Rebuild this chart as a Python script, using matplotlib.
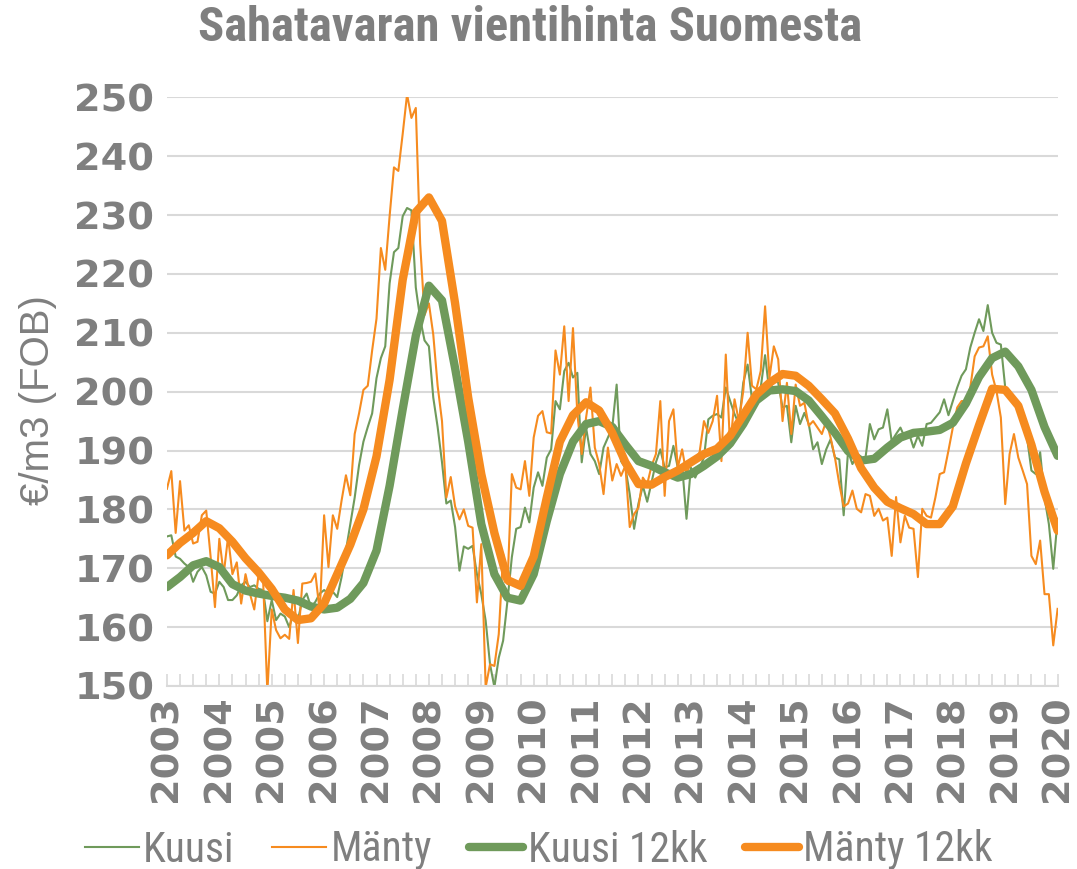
import numpy as np
import matplotlib

matplotlib.use("Agg")
import matplotlib.pyplot as plt
from matplotlib import font_manager

# monthly export prices, Jan 2003 .. Jan 2020 (EUR/m3 FOB)
kuusi = [
    175.4, 175.6, 172.0, 171.6, 170.8, 170.2, 167.7, 169.4, 170.2, 168.8, 166.0, 165.7,
    167.7, 166.8, 164.6, 164.6, 165.4, 167.1, 167.7, 166.8, 167.1, 166.5, 166.3, 161.0,
    164.6, 161.2, 162.3, 161.8, 160.0, 162.3, 161.2, 164.6, 165.7, 163.4, 164.3, 165.7,
    166.3, 165.7, 166.0, 165.1, 168.5, 173.0, 177.6, 182.0, 187.5, 191.5, 194.0, 196.3,
    202.3, 205.7, 207.7, 218.4, 223.7, 224.4, 229.8, 231.2, 230.8, 217.7, 212.4, 208.7,
    207.7, 199.0, 194.0, 188.0, 181.0, 181.5, 177.0, 169.6, 173.7, 173.3, 173.8, 169.0,
    165.6, 161.1, 153.7, 149.8, 154.8, 157.7, 164.5, 171.9, 176.7, 177.0, 180.3, 177.8,
    183.7, 186.3, 184.0, 188.8, 190.2, 198.4, 197.0, 203.5, 204.9, 202.4, 203.2, 188.0,
    193.9, 189.4, 188.2, 186.0, 190.5, 192.2, 193.9, 201.2, 188.2, 187.1, 182.6, 176.7,
    181.0, 184.0, 181.3, 184.6, 188.0, 190.2, 187.1, 187.4, 190.8, 187.1, 187.4, 178.4,
    187.1, 185.4, 187.1, 188.8, 195.3, 195.9, 196.2, 195.6, 200.7, 198.4, 196.2, 194.5,
    201.5, 204.6, 198.7, 199.5, 200.7, 206.2, 199.8, 202.4, 201.5, 197.3, 197.6, 191.4,
    197.6, 194.5, 196.4, 194.5, 190.2, 191.4, 187.7, 190.2, 191.9, 188.8, 188.5, 179.0,
    189.9, 187.7, 189.1, 188.2, 188.8, 194.5, 191.9, 193.6, 193.9, 197.0, 191.6, 192.8,
    193.9, 192.2, 192.8, 190.5, 192.5, 190.8, 194.5, 194.7, 195.6, 196.5, 198.7, 196.0,
    198.4, 200.7, 202.7, 203.8, 207.5, 210.0, 212.3, 210.3, 214.7, 210.0, 208.3, 208.0,
    200.7, 200.1, 198.7, 196.7, 195.0, 192.2, 186.6, 186.0, 189.7, 182.0, 177.5, 169.9,
    178.4,
]
manty = [
    183.5, 186.5, 176.0, 184.8, 176.4, 177.3, 174.2, 174.5, 179.0, 179.8, 172.0, 163.4,
    175.0, 169.0, 175.3, 169.0, 171.0, 164.0, 169.0, 165.7, 163.0, 169.0, 168.5, 149.0,
    163.0, 159.5, 158.1, 158.7, 158.0, 166.3, 157.3, 167.4, 167.5, 167.7, 169.1, 162.6,
    179.0, 170.2, 179.0, 176.7, 181.5, 185.8, 182.4, 192.8, 196.3, 200.3, 201.0, 207.0,
    212.4, 224.4, 220.7, 229.8, 238.1, 237.5, 243.8, 250.5, 246.5, 248.2, 225.1, 213.0,
    215.0, 209.7, 201.0, 195.0, 182.0, 185.5, 180.5, 178.3, 180.0, 177.2, 176.9, 164.2,
    174.1, 149.8, 153.7, 153.4, 158.8, 172.4, 167.3, 186.0, 183.7, 183.4, 188.2, 182.3,
    192.2, 195.9, 196.7, 193.1, 192.9, 207.0, 202.9, 211.1, 198.4, 210.8, 196.2, 189.4,
    195.6, 200.7, 190.5, 187.7, 182.6, 190.5, 184.9, 187.7, 185.7, 187.4, 177.0, 179.2,
    180.3, 185.4, 184.3, 187.4, 189.4, 198.4, 182.3, 195.0, 197.0, 187.1, 190.2, 186.0,
    188.0, 188.5, 189.7, 195.0, 193.0, 195.0, 199.3, 188.2, 206.3, 190.5, 198.7, 195.0,
    200.1, 210.0, 201.0, 200.4, 203.5, 214.5, 202.4, 207.7, 205.5, 195.0, 201.5, 192.8,
    201.2, 197.6, 198.1, 194.2, 195.0, 193.9, 192.8, 195.0, 192.2, 188.8, 184.3, 180.5,
    181.0, 183.2, 180.1, 179.5, 182.6, 182.3, 178.9, 180.1, 178.1, 178.6, 172.1, 182.1,
    174.4, 178.9, 176.9, 176.7, 168.5, 180.1, 178.9, 178.6, 182.0, 186.0, 186.3, 190.0,
    193.9, 197.3, 198.4, 198.4, 200.7, 206.0, 207.5, 207.7, 209.4, 202.9, 200.1, 195.6,
    180.9, 189.4, 192.8, 188.8, 186.6, 184.3, 172.1, 170.7, 174.7, 165.6, 165.6, 156.9,
    163.1,
]

# 12 month averages, read every third month
kuusi_12kk = [
    166.8, 168.5, 170.5, 171.2,
    170.2, 167.3, 166.2, 165.7,
    165.3, 165.0, 164.5, 163.5,
    163.0, 163.3, 164.8, 167.5,
    173.0, 184.0, 197.0, 209.5,
    218.0, 215.5, 204.0, 191.5,
    177.5, 169.0, 165.0, 164.5,
    169.0, 178.0, 186.0, 191.5,
    194.5, 195.0, 194.0, 191.0,
    188.2, 187.4, 186.3, 185.4,
    186.0, 187.4, 189.0, 191.2,
    194.5, 198.5, 200.2, 200.4,
    200.1, 198.5, 195.8, 193.0,
    189.9, 188.3, 188.6, 190.5,
    192.2, 193.0, 193.2, 193.5,
    194.7, 198.0, 202.5, 205.7,
    206.8, 204.3, 200.3, 194.0,
    189.1,
]
manty_12kk = [
    172.2, 174.3, 176.0, 178.0,
    176.8, 174.5, 171.7, 169.3,
    166.5, 163.0, 161.2, 161.5,
    164.0, 169.0, 174.0, 180.0,
    189.0, 202.0, 219.0, 230.5,
    233.0, 229.0, 215.0, 199.0,
    186.0, 176.0, 168.0, 167.0,
    172.0, 182.0, 191.5, 196.0,
    198.2, 196.8, 193.0, 188.0,
    184.3, 184.2, 185.5, 186.6,
    188.0, 189.4, 190.3, 192.5,
    196.0, 199.5, 201.5, 203.0,
    202.7, 201.0, 198.7, 196.3,
    192.0, 187.0, 183.7, 181.3,
    180.2, 179.2, 177.5, 177.5,
    180.5, 187.8, 194.3, 200.5,
    200.3, 197.6, 191.0, 183.0,
    176.4,
]
years = list(range(2003, 2021))

GREEN = "#6F9A5B"
ORANGE = "#F68B1F"
GRAY = "#7F7F7F"
GRID = "#D9D9D9"


def narrow_font():
    """Pick a condensed sans family if one is installed."""
    names = {f.name for f in font_manager.fontManager.ttflist}
    for name in ["Liberation Sans Narrow", "Roboto Condensed", "Open Sans Condensed",
                 "DejaVu Sans Condensed", "Noto Sans Condensed"]:
        if name in names:
            return name, 1.0
    for f in font_manager.fontManager.ttflist:
        if "Condensed" in f.fname or "Narrow" in f.fname:
            return f.name, 1.0
    # no condensed face: shrink a normal one so the text keeps its width
    return "Liberation Sans", 0.82


narrow, shrink = narrow_font()

x_month = 2003 + np.arange(len(kuusi)) / 12
x_quarter = 2003 + np.arange(0, 3 * len(kuusi_12kk), 3) / 12

fig = plt.figure(figsize=(10.77, 8.69), dpi=100)
ax = fig.add_axes([0.155, 0.2106, 0.827, 0.6774])

ax.plot(x_month, kuusi, color=GREEN, linewidth=1.5, label="Kuusi")
ax.plot(x_month, manty, color=ORANGE, linewidth=1.5, label="Mänty")
ax.plot(x_quarter, kuusi_12kk, color=GREEN, linewidth=6, solid_capstyle="round", label="Kuusi 12kk")
ax.plot(x_quarter, manty_12kk, color=ORANGE, linewidth=6, solid_capstyle="round", label="Mänty 12kk")

ax.set_xlim(2003, 2020)
ax.set_ylim(150, 250)
ax.set_yticks(range(150, 251, 10))
ax.set_xticks(years)
ax.set_xticks(np.arange(2003, 2020.01, 0.25), minor=True)
ax.set_xticklabels([str(y) for y in years], rotation=90)
ax.yaxis.grid(True, color=GRID, linewidth=1.5)
ax.set_axisbelow(True)

for side in ["top", "right", "left"]:
    ax.spines[side].set_visible(False)
ax.spines["bottom"].set_color(GRID)
ax.spines["bottom"].set_linewidth(1.5)

for label in ax.get_xticklabels() + ax.get_yticklabels():
    label.set_fontfamily("DejaVu Sans")
    label.set_fontweight("bold")
    label.set_fontsize(27.5)
    label.set_color(GRAY)

ax.tick_params(axis="y", length=0, pad=9)
ax.tick_params(axis="x", which="both", direction="in", length=9, width=1.2, color=GRID, pad=7)

fig.text(0.492, 1 - 28 / 869, "Sahatavaran vientihinta Suomesta",
         ha="center", va="center", fontsize=35 * shrink, fontweight="bold", color=GRAY,
         family=[narrow, "DejaVu Sans"])
fig.text(38 / 1077, 1 - 400 / 869, "€/m3 (FOB)", rotation=90,
         ha="center", va="center", fontsize=29, color=GRAY,
         family=["Liberation Sans", "DejaVu Sans"])

leg = fig.legend(loc="center", bbox_to_anchor=(0.5, 1 - 850 / 869), ncol=4, frameon=False,
                 handlelength=1.3, handletextpad=0.1, columnspacing=0.9,
                 prop={"family": [narrow, "DejaVu Sans"], "size": 30 * shrink})
for text in leg.get_texts():
    text.set_color(GRAY)

fig.savefig("out.png", dpi=100)
